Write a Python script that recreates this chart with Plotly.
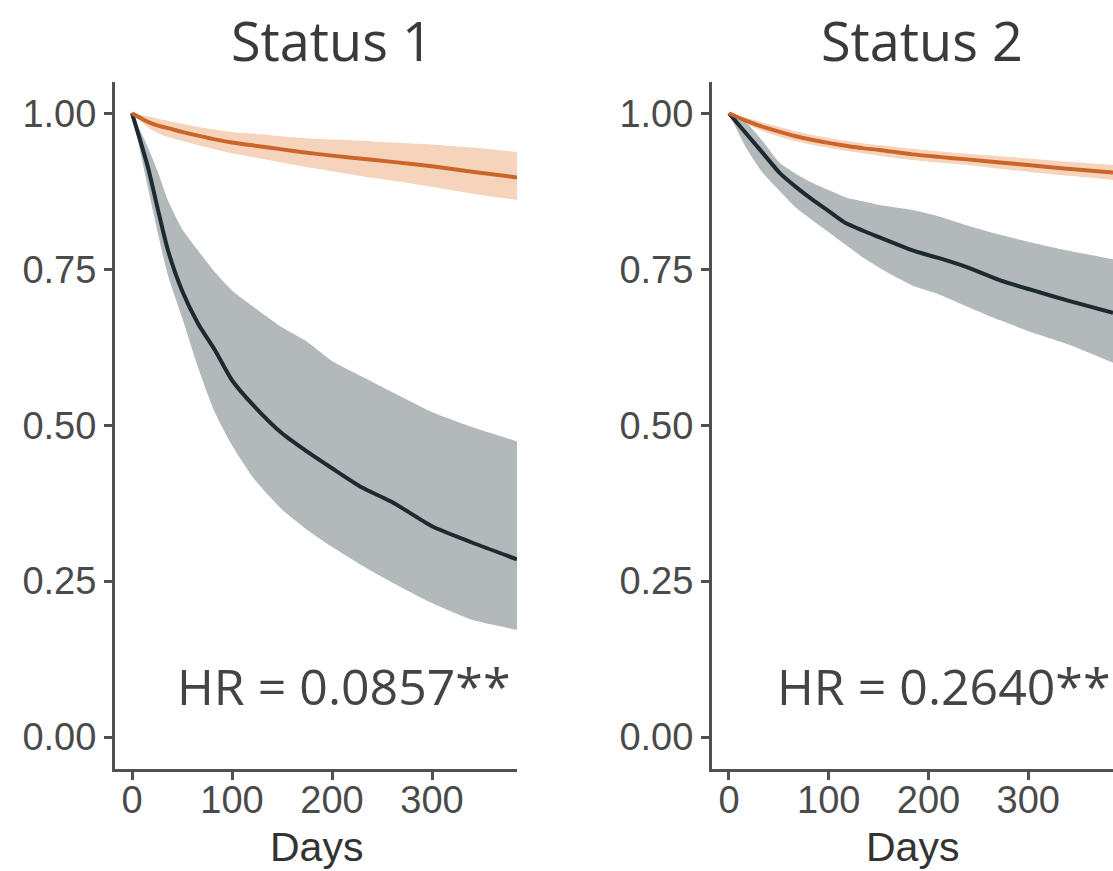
import plotly.graph_objects as go

W, H = 1113, 871

# ---------------- data ----------------
days_s1 = [0, 16, 26, 36, 50, 66, 83, 100, 123, 150, 173, 200, 230, 260, 300, 340, 385]
s1_orange = [1.0, 0.986, 0.980, 0.976, 0.970, 0.964, 0.958, 0.953, 0.948, 0.942, 0.937, 0.932, 0.927, 0.922, 0.915, 0.906, 0.897]
s1_orange_hi = [1.0, 0.995, 0.991, 0.988, 0.983, 0.978, 0.974, 0.970, 0.967, 0.963, 0.960, 0.958, 0.956, 0.953, 0.950, 0.945, 0.938]
s1_orange_lo = [1.0, 0.977, 0.968, 0.962, 0.956, 0.949, 0.942, 0.936, 0.929, 0.921, 0.914, 0.907, 0.899, 0.892, 0.882, 0.871, 0.861]
s1_dark = [1.0, 0.913, 0.845, 0.780, 0.716, 0.663, 0.620, 0.572, 0.529, 0.487, 0.460, 0.431, 0.400, 0.377, 0.338, 0.312, 0.285]
s1_dark_hi = [1.0, 0.945, 0.905, 0.860, 0.815, 0.780, 0.745, 0.716, 0.688, 0.657, 0.636, 0.603, 0.578, 0.553, 0.521, 0.497, 0.474]
s1_dark_lo = [1.0, 0.880, 0.807, 0.740, 0.673, 0.593, 0.520, 0.468, 0.412, 0.365, 0.335, 0.305, 0.275, 0.248, 0.215, 0.188, 0.172]

days_s2 = [0, 17, 34, 51, 67, 84, 101, 117, 134, 151, 184, 210, 239, 272, 305, 339, 385]
s2_orange = [1.0, 0.988, 0.978, 0.970, 0.963, 0.957, 0.952, 0.948, 0.944, 0.941, 0.934, 0.930, 0.926, 0.921, 0.916, 0.911, 0.905]
s2_orange_hi = [1.0, 0.993, 0.985, 0.978, 0.971, 0.965, 0.960, 0.956, 0.952, 0.949, 0.943, 0.939, 0.935, 0.931, 0.927, 0.922, 0.917]
s2_orange_lo = [1.0, 0.983, 0.971, 0.962, 0.955, 0.949, 0.944, 0.940, 0.936, 0.932, 0.925, 0.921, 0.917, 0.911, 0.905, 0.900, 0.893]
s2_dark = [1.0, 0.968, 0.936, 0.904, 0.882, 0.861, 0.842, 0.824, 0.812, 0.801, 0.780, 0.768, 0.753, 0.732, 0.716, 0.700, 0.680]
s2_dark_hi = [1.0, 0.985, 0.955, 0.920, 0.903, 0.888, 0.876, 0.865, 0.859, 0.853, 0.845, 0.835, 0.820, 0.805, 0.792, 0.780, 0.766]
s2_dark_lo = [1.0, 0.945, 0.904, 0.875, 0.849, 0.828, 0.808, 0.789, 0.769, 0.752, 0.724, 0.710, 0.690, 0.668, 0.648, 0.630, 0.600]

panel_titles = ["Status 1", "Status 2"]
hr_labels = ["HR = 0.0857**", "HR = 0.2640**"]
x_ticks = [0, 100, 200, 300]
y_ticks = [0.0, 0.25, 0.5, 0.75, 1.0]
y_ticklabels = ["0.00", "0.25", "0.50", "0.75", "1.00"]

# ---------------- styles ----------------
ORANGE = "#cb6529"
ORANGE_BAND = "rgba(236,160,105,0.45)"
DARK = "#1d2a31"
DARK_BAND = "#b3b9bb"
AXIS = "#505050"
TXT = "#4a4a4a"

fig = go.Figure()

panels = [
    (days_s1, s1_orange, s1_orange_hi, s1_orange_lo, s1_dark, s1_dark_hi, s1_dark_lo, "x", "y"),
    (days_s2, s2_orange, s2_orange_hi, s2_orange_lo, s2_dark, s2_dark_hi, s2_dark_lo, "x2", "y2"),
]

for d, o, ohi, olo, k, khi, klo, xa, ya in panels:
    fig.add_trace(go.Scatter(x=d, y=khi, mode="lines", line=dict(width=0, color=DARK_BAND, shape="spline", smoothing=0.6),
                             xaxis=xa, yaxis=ya, showlegend=False, hoverinfo="skip"))
    fig.add_trace(go.Scatter(x=d, y=klo, mode="lines", line=dict(width=0, color=DARK_BAND, shape="spline", smoothing=0.6),
                             fill="tonexty", fillcolor=DARK_BAND,
                             xaxis=xa, yaxis=ya, showlegend=False, hoverinfo="skip"))
    fig.add_trace(go.Scatter(x=d, y=ohi, mode="lines", line=dict(width=0, color=ORANGE_BAND, shape="spline", smoothing=0.6),
                             xaxis=xa, yaxis=ya, showlegend=False, hoverinfo="skip"))
    fig.add_trace(go.Scatter(x=d, y=olo, mode="lines", line=dict(width=0, color=ORANGE_BAND, shape="spline", smoothing=0.6),
                             fill="tonexty", fillcolor=ORANGE_BAND,
                             xaxis=xa, yaxis=ya, showlegend=False, hoverinfo="skip"))
    fig.add_trace(go.Scatter(x=d, y=k, mode="lines", line=dict(width=4, color=DARK, shape="spline", smoothing=0.6),
                             xaxis=xa, yaxis=ya, showlegend=False))
    fig.add_trace(go.Scatter(x=d, y=o, mode="lines", line=dict(width=4, color=ORANGE, shape="spline", smoothing=0.6),
                             xaxis=xa, yaxis=ya, showlegend=False))

def px_x(p):
    return p / W

def px_y(p):
    return 1 - p / H

x_dom1 = [px_x(115), px_x(517)]
x_dom2 = [px_x(712), px_x(1113)]
y_dom = [px_y(769), px_y(82)]

xaxis_common = dict(range=[-17, 385], tickvals=x_ticks, ticktext=[str(v) for v in x_ticks],
                    showline=True, linewidth=3, linecolor=AXIS, ticks="outside", ticklen=8,
                    tickwidth=3, tickcolor=AXIS, showgrid=False, zeroline=False,
                    ticklabelstandoff=-13,
                    tickfont=dict(family="Liberation Sans, Arial", size=38, color=TXT),
                    fixedrange=True)
yaxis_common = dict(range=[-0.051, 1.05], tickvals=y_ticks, ticktext=y_ticklabels,
                    showline=True, linewidth=3, linecolor=AXIS, ticks="outside", ticklen=8,
                    tickwidth=3, tickcolor=AXIS, showgrid=False, zeroline=False,
                    tickfont=dict(family="Liberation Sans, Arial", size=38, color=TXT),
                    fixedrange=True)

fig.update_layout(
    width=W, height=H,
    margin=dict(l=0, r=0, t=0, b=0),
    paper_bgcolor="white", plot_bgcolor="white",
    xaxis=dict(domain=x_dom1, anchor="y", **xaxis_common),
    yaxis=dict(domain=y_dom, anchor="x", **yaxis_common),
    xaxis2=dict(domain=x_dom2, anchor="y2", **xaxis_common),
    yaxis2=dict(domain=y_dom, anchor="x2", **yaxis_common),
)

annotations = []
title_centers = [332, 922]
days_centers = [316, 912]
hr_right = [512, 1112]
for i in range(2):
    annotations.append(dict(text=panel_titles[i], x=px_x(title_centers[i]), y=px_y(40),
                            xref="paper", yref="paper", xanchor="center", yanchor="middle",
                            showarrow=False, font=dict(family="Open Sans", size=54, color="#3a3a3a")))
    annotations.append(dict(text="Days", x=px_x(days_centers[i]), y=px_y(847),
                            xref="paper", yref="paper", xanchor="center", yanchor="middle",
                            showarrow=False, font=dict(family="Liberation Sans, Arial", size=41, color="#333333")))
    annotations.append(dict(text=hr_labels[i], x=px_x(hr_right[i]), y=px_y(686),
                            xref="paper", yref="paper", xanchor="right", yanchor="middle",
                            showarrow=False, font=dict(family="Open Sans", size=50, color="#444444")))
fig.update_layout(annotations=annotations)

fig.write_html("out.html")
